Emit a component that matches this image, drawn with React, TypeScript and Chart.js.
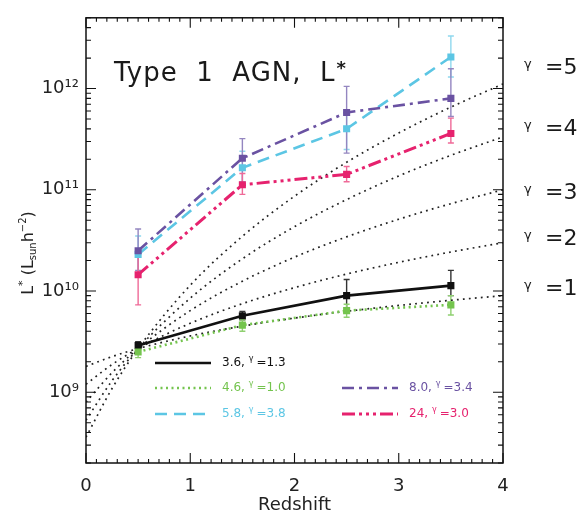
import React, { useEffect, useRef } from 'react';
import { Chart, registerables } from 'chart.js';

Chart.register(...registerables);

const FONT = '"DejaVu Sans", "Liberation Sans", sans-serif';

// ---- data ----
const redshift = [0.5, 1.5, 2.5, 3.5];

const lum36 = [2.9e9, 5.7e9, 9.0e9, 1.13e10];
const lum36Lo = [2.65e9, 5.2e9, 6.3e9, 9.0e9];
const lum36Hi = [3.15e9, 6.3e9, 1.3e10, 1.6e10];

const lum46 = [2.5e9, 4.6e9, 6.4e9, 7.3e9];
const lum46Lo = [2.2e9, 4.0e9, 5.5e9, 5.8e9];
const lum46Hi = [2.8e9, 5.2e9, 7.4e9, 9.0e9];

const lum58 = [2.3e10, 1.65e11, 4.0e11, 2.05e12];
const lum58Lo = [1.5e10, 1.2e11, 2.5e11, 1.3e12];
const lum58Hi = [3.5e10, 2.4e11, 6.0e11, 3.3e12];

const lum80 = [2.5e10, 2.05e11, 5.8e11, 8.0e11];
const lum80Lo = [1.6e10, 1.1e11, 2.3e11, 5.3e11];
const lum80Hi = [4.1e10, 3.2e11, 1.05e12, 1.57e12];

const lum24 = [1.45e10, 1.12e11, 1.42e11, 3.6e11];
const lum24Lo = [7.3e9, 9.0e10, 1.2e11, 2.9e11];
const lum24Hi = [2.6e10, 1.45e11, 1.7e11, 5.1e11];

const bandLabels = ['3.6', '4.6', '5.8', '8.0', '24'];
const bandGammas = ['1.3', '1.0', '3.8', '3.4', '3.0'];

// dotted model curves, read at these redshifts
const modelZ = [0, 0.25, 0.5, 1, 1.5, 2, 2.5, 3, 3.5, 4];
const modelG1 = [1.8e9, 2.25e9, 2.7e9, 3.6e9, 4.5e9, 5.4e9, 6.3e9, 7.2e9, 8.1e9, 9.0e9];
const modelG2 = [1.2e9, 1.88e9, 2.7e9, 4.8e9, 7.5e9, 1.08e10, 1.47e10, 1.92e10, 2.43e10, 3.0e10];
const modelG3 = [8.0e8, 1.56e9, 2.7e9, 6.4e9, 1.25e10, 2.16e10, 3.43e10, 5.12e10, 7.29e10, 1.0e11];
const modelG4 = [5.3e8, 1.3e9, 2.7e9, 8.5e9, 2.08e10, 4.32e10, 8.0e10, 1.37e11, 2.19e11, 3.33e11];
const modelG5 = [3.6e8, 1.09e9, 2.7e9, 1.14e10, 3.47e10, 8.64e10, 1.87e11, 3.64e11, 6.56e11, 1.11e12];
const modelGammas = ['1', '2', '3', '4', '5'];

const xTicks = [0, 1, 2, 3, 4];
const yTickPowers = [9, 10, 11, 12];
const yMin = 2e8;
const yMax = 5e12;

const titleText = 'Type  1  AGN,  L';

// ---- tables built from the arrays ----
const seriesTable = [
  { label: bandLabels[0], gamma: bandGammas[0], values: lum36, lo: lum36Lo, hi: lum36Hi, color: '#111111', err: '#333333', dash: [], width: 2.6 },
  { label: bandLabels[1], gamma: bandGammas[1], values: lum46, lo: lum46Lo, hi: lum46Hi, color: '#74c44e', err: '#8fd070', dash: [2, 3.5], width: 2.6 },
  { label: bandLabels[2], gamma: bandGammas[2], values: lum58, lo: lum58Lo, hi: lum58Hi, color: '#5cc6e4', err: '#8fd8ee', dash: [12, 7], width: 2.6 },
  { label: bandLabels[3], gamma: bandGammas[3], values: lum80, lo: lum80Lo, hi: lum80Hi, color: '#6a52a2', err: '#9486c0', dash: [12, 5, 3, 5], width: 2.6 },
  { label: bandLabels[4], gamma: bandGammas[4], values: lum24, lo: lum24Lo, hi: lum24Hi, color: '#e6226e', err: '#ef6a98', dash: [13, 4, 3, 4, 3, 4, 3, 4], width: 3 },
];
const modelTable = [modelG1, modelG2, modelG3, modelG4, modelG5];

const SUP: Record<string, string> = { '0': '⁰', '1': '¹', '2': '²', '3': '³', '4': '⁴', '5': '⁵', '6': '⁶', '7': '⁷', '8': '⁸', '9': '⁹', '-': '⁻' };
const sup = (s: string) => s.split('').map((c) => SUP[c] || c).join('');

const overlay = {
  id: 'overlay',
  beforeDatasetsDraw(chart: any) {
    const { ctx, chartArea, scales } = chart;
    const x = scales.x;
    const y = scales.y;
    ctx.save();
    ctx.beginPath();
    ctx.rect(chartArea.left, chartArea.top, chartArea.right - chartArea.left, chartArea.bottom - chartArea.top);
    ctx.clip();
    ctx.setLineDash([]);
    ctx.lineWidth = 1.4;
    seriesTable.forEach((s) => {
      ctx.strokeStyle = s.err;
      redshift.forEach((z, i) => {
        const px = x.getPixelForValue(z);
        const t = y.getPixelForValue(s.hi[i]);
        const b = y.getPixelForValue(s.lo[i]);
        ctx.beginPath();
        ctx.moveTo(px, t);
        ctx.lineTo(px, b);
        ctx.moveTo(px - 3, t);
        ctx.lineTo(px + 3, t);
        ctx.moveTo(px - 3, b);
        ctx.lineTo(px + 3, b);
        ctx.stroke();
      });
    });
    ctx.restore();
  },
  afterDraw(chart: any) {
    const { ctx, chartArea, scales } = chart;
    const x = scales.x;
    const y = scales.y;
    const { left, right, top, bottom } = chartArea;
    ctx.save();
    ctx.setLineDash([]);
    ctx.strokeStyle = '#111';
    ctx.lineWidth = 1.5;
    ctx.strokeRect(left, top, right - left, bottom - top);
    ctx.lineWidth = 1.1;
    ctx.beginPath();
    // y ticks (log)
    for (let n = 8; n <= 12; n++) {
      for (let k = 1; k <= 9; k++) {
        const v = k * Math.pow(10, n);
        if (v < yMin || v > yMax) continue;
        const py = y.getPixelForValue(v);
        const len = k === 1 ? 10 : 5;
        ctx.moveTo(left, py);
        ctx.lineTo(left + len, py);
        ctx.moveTo(right, py);
        ctx.lineTo(right - len, py);
      }
    }
    // x ticks
    for (let i = 0; i <= 40; i++) {
      const v = i / 10;
      const px = x.getPixelForValue(v);
      const len = i % 10 === 0 ? 10 : 4;
      ctx.moveTo(px, bottom);
      ctx.lineTo(px, bottom - len);
      ctx.moveTo(px, top);
      ctx.lineTo(px, top + len);
    }
    ctx.stroke();

    // title inside plot
    ctx.fillStyle = '#1a1a1a';
    ctx.textBaseline = 'alphabetic';
    ctx.textAlign = 'left';
    ctx.font = `26px ${FONT}`;
    (ctx as any).letterSpacing = '1px';
    ctx.fillText(titleText, 114, 81);
    const tw = ctx.measureText(titleText).width;
    (ctx as any).letterSpacing = '0px';
    ctx.font = `bold 18px ${FONT}`;
    ctx.fillText('*', 114 + tw + 1, 74);

    // gamma labels on the right
    const gy = [288, 238, 192, 128, 67];
    modelGammas.forEach((g, i) => {
      ctx.fillStyle = '#1a1a1a';
      ctx.font = `13px ${FONT}`;
      ctx.textBaseline = 'alphabetic';
      ctx.fillText('γ', 524, gy[i] + 1);
      ctx.font = `22px ${FONT}`;
      ctx.textBaseline = 'middle';
      ctx.fillText('=' + g, 545, gy[i] + 1);
    });

    // y axis label, rotated
    ctx.save();
    ctx.translate(27, 253);
    ctx.rotate(-Math.PI / 2);
    ctx.fillStyle = '#222';
    ctx.textBaseline = 'alphabetic';
    const parts: Array<[string, number, number]> = [
      ['L', 16, 0],
      ['*', 11, -7],
      [' (L', 16, 0],
      ['sun', 10, 3],
      ['h', 16, 0],
      ['−2', 10, -7],
      [')', 16, 0],
    ];
    let total = 0;
    parts.forEach(([t, sz]) => {
      ctx.font = `${sz}px ${FONT}`;
      total += ctx.measureText(t).width;
    });
    let cx = -total / 2;
    parts.forEach(([t, sz, dy]) => {
      ctx.font = `${sz}px ${FONT}`;
      ctx.fillText(t, cx, 6 + dy);
      cx += ctx.measureText(t).width;
    });
    ctx.restore();

    // legend
    const slots = [
      { lx: 155, tx: 222, ly: 363 },
      { lx: 155, tx: 222, ly: 388 },
      { lx: 155, tx: 222, ly: 414 },
      { lx: 342, tx: 409, ly: 388 },
      { lx: 342, tx: 409, ly: 414 },
    ];
    seriesTable.forEach((s, i) => {
      const sl = slots[i];
      ctx.strokeStyle = s.color;
      ctx.lineWidth = s.width;
      ctx.setLineDash(s.dash);
      ctx.beginPath();
      ctx.moveTo(sl.lx, sl.ly);
      ctx.lineTo(sl.lx + 56, sl.ly);
      ctx.stroke();
      ctx.setLineDash([]);
      ctx.fillStyle = s.color;
      ctx.textBaseline = 'middle';
      let tx = sl.tx;
      ctx.font = `12px ${FONT}`;
      const a = s.label + ', ';
      ctx.fillText(a, tx, sl.ly);
      tx += ctx.measureText(a).width;
      ctx.font = `8px ${FONT}`;
      ctx.fillText('γ', tx, sl.ly - 4);
      tx += ctx.measureText('γ').width + 3;
      ctx.font = `12px ${FONT}`;
      ctx.fillText('=' + s.gamma, tx, sl.ly);
    });
    ctx.restore();
  },
};

export default function App() {
  const canvasRef = useRef<HTMLCanvasElement | null>(null);

  useEffect(() => {
    document.body.style.margin = '0';
    const canvas = canvasRef.current;
    if (!canvas) return;

    const modelDatasets = modelTable.map((vals, i) => ({
      label: 'γ=' + modelGammas[i],
      data: modelZ.map((z, j) => ({ x: z, y: vals[j] })),
      borderColor: '#222',
      borderWidth: 1.7,
      borderDash: [1.8, 4.2],
      pointRadius: 0,
      cubicInterpolationMode: 'monotone' as const,
      fill: false,
      order: 10,
    }));

    const dataDatasets = seriesTable.map((s, i) => ({
      label: s.label,
      data: redshift.map((z, j) => ({ x: z, y: s.values[j] })),
      borderColor: s.color,
      backgroundColor: s.color,
      borderWidth: s.width,
      borderDash: s.dash,
      pointStyle: 'rect' as const,
      pointRadius: 5,
      pointBackgroundColor: s.color,
      pointBorderColor: s.color,
      pointBorderWidth: 0,
      tension: 0,
      fill: false,
      order: 5 - i,
    }));

    const chart = new Chart(canvas, {
      type: 'line',
      data: { datasets: [...dataDatasets, ...modelDatasets] as any },
      options: {
        responsive: false,
        animation: false,
        layout: { padding: { left: 0, right: 76, top: 8, bottom: 0 } },
        plugins: { legend: { display: false }, tooltip: { enabled: false } },
        scales: {
          x: {
            type: 'linear',
            min: 0,
            max: 4,
            grid: { display: false, drawTicks: false },
            border: { display: false },
            afterBuildTicks: (axis: any) => {
              axis.ticks = xTicks.map((v) => ({ value: v }));
            },
            ticks: {
              font: { family: FONT, size: 18 },
              color: '#222',
              padding: 13,
              maxRotation: 0,
              autoSkip: false,
              callback: (v: any) => String(v),
            },
            title: {
              display: true,
              text: 'Redshift',
              font: { family: FONT, size: 18 },
              color: '#222',
              padding: 0,
            },
            afterFit: (s: any) => {
              s.height = 53;
            },
          },
          y: {
            type: 'logarithmic',
            min: yMin,
            max: yMax,
            grid: { display: false, drawTicks: false },
            border: { display: false },
            afterBuildTicks: (axis: any) => {
              axis.ticks = yTickPowers.map((p) => ({ value: Math.pow(10, p) }));
            },
            ticks: {
              font: { family: FONT, size: 18 },
              color: '#222',
              padding: 7,
              autoSkip: false,
              callback: (v: any) => '10' + sup(String(Math.round(Math.log10(Number(v))))),
            },
            afterFit: (s: any) => {
              s.width = 86;
            },
          },
        },
      },
      plugins: [overlay],
    });

    return () => chart.destroy();
  }, []);

  return (
    <div style={{ width: 579, height: 516, background: '#fff' }}>
      <canvas ref={canvasRef} width={579} height={516} style={{ display: 'block' }} />
    </div>
  );
}
